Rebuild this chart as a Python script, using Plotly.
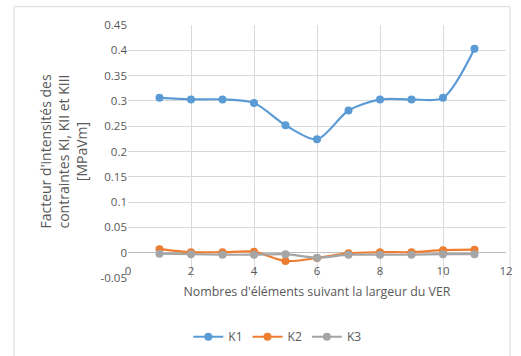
import plotly.graph_objects as go

# Number of elements across the RVE width
n_elements = [1, 2, 3, 4, 5, 6, 7, 8, 9, 10, 11]

# Stress intensity factors [MPa√m]
k1 = [0.306, 0.303, 0.303, 0.296, 0.252, 0.224, 0.281, 0.303, 0.303, 0.306, 0.403]
k2 = [0.007, 0.001, 0.001, 0.002, -0.0165, -0.0105, -0.001, 0.001, 0.001, 0.005, 0.006]
k3 = [-0.002, -0.003, -0.004, -0.004, -0.003, -0.010, -0.004, -0.004, -0.004, -0.003, -0.003]

series = [("K1", k1, "#5B9BD5"), ("K2", k2, "#ED7D31"), ("K3", k3, "#A5A5A5")]

FONT = "Open Sans, Calibri, sans-serif"
TEXT = "#595959"
GRID = "#D9D9D9"
Y_MIN, Y_MAX = -0.05, 0.45

fig = go.Figure()
for name, vals, color in series:
    fig.add_trace(go.Scatter(
        x=n_elements, y=vals, name=name, mode="lines+markers",
        line=dict(color=color, width=2.2, shape="spline", smoothing=0.8),
        marker=dict(color=color, size=8),
    ))

fig.update_layout(
    width=521, height=356,
    margin=dict(l=128, r=15, t=25, b=78, autoexpand=False),
    paper_bgcolor="white", plot_bgcolor="white",
    font=dict(family=FONT, size=11, color=TEXT),
    showlegend=True,
    legend=dict(orientation="h", x=0.395, xanchor="center", y=-0.175, yanchor="top",
                font=dict(size=12, color=TEXT), itemwidth=30, traceorder="normal",
                tracegroupgap=0),
    shapes=[dict(type="rect", xref="paper", yref="paper",
                 x0=-0.3016, x1=1.0106, y0=-0.33, y1=1.0723,
                 line=dict(color="#D9D9D9", width=1), layer="below")],
)

# horizontal axis crosses the vertical one at y = 0
fig.update_xaxes(
    range=[0, 12], tickvals=[0, 2, 4, 6, 8, 10, 12], ticks="",
    anchor="free", position=(0 - Y_MIN) / (Y_MAX - Y_MIN),
    ticklabelstandoff=10, automargin=False,
    showgrid=True, gridcolor=GRID, gridwidth=1, zeroline=False,
    showline=False, mirror=False,
    title=dict(text="Nombres d'éléments suivant la largeur du VER", standoff=10,
               font=dict(size=12.4, color=TEXT)),
    tickfont=dict(size=11.5, color=TEXT),
)
fig.update_yaxes(
    range=[Y_MIN, Y_MAX], tickvals=[-0.05, 0, 0.05, 0.1, 0.15, 0.2, 0.25, 0.3, 0.35, 0.4, 0.45],
    ticktext=["-0.05", "0", "0.05", "0.1", "0.15", "0.2", "0.25", "0.3", "0.35", "0.4", "0.45"],
    ticks="", showgrid=True, gridcolor=GRID, zeroline=True, zerolinecolor="#BFBFBF",
    zerolinewidth=1, automargin=False,
    title=dict(text="Facteur d'intensités des<br>contraintes KI, KII et KIII<br>[MPaVm]",
               standoff=9, font=dict(size=14, color=TEXT)),
    tickfont=dict(size=11.5, color=TEXT),
)

fig.write_html("out.html")
